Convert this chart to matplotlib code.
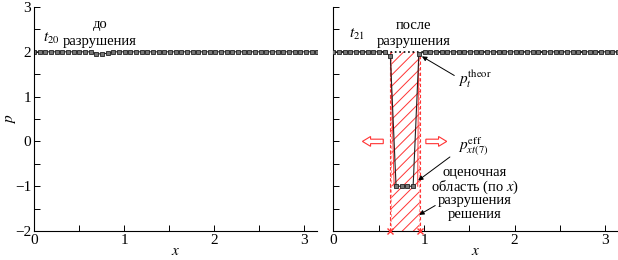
import numpy as np
import matplotlib
matplotlib.use("Agg")
import matplotlib.pyplot as plt
from matplotlib.patches import Rectangle, FancyArrow
from matplotlib.ticker import MultipleLocator

plt.rcParams['font.family'] = ['Liberation Serif', 'DejaVu Serif']
plt.rcParams['mathtext.fontset'] = 'stix'
plt.rcParams['hatch.linewidth'] = 0.7

# ---- data ----
n_points = 51
x_grid = np.linspace(0, np.pi, n_points)
p_before = [2.0, 2.0, 2.0, 2.0, 2.0, 2.0, 2.0, 2.0, 2.0, 2.0,
            2.0, 1.96, 1.95, 1.97, 2.0, 2.0, 2.0, 2.0, 2.0, 2.0,
            2.0, 2.0, 2.0, 2.0, 2.0, 2.0, 2.0, 2.0, 2.0, 2.0,
            2.0, 2.0, 2.0, 2.0, 2.0, 2.0, 2.0, 2.0, 2.0, 2.0,
            2.0, 2.0, 2.0, 2.0, 2.0, 2.0, 2.0, 2.0, 2.0, 2.0, 2.0]
p_after = [2.0, 2.0, 2.0, 2.0, 2.0, 2.0, 2.0, 2.0, 2.0, 2.0,
           1.9, -1.0, -1.0, -1.0, -1.0, 1.95, 2.0, 2.0, 2.0, 2.0,
           2.0, 2.0, 2.0, 2.0, 2.0, 2.0, 2.0, 2.0, 2.0, 2.0,
           2.0, 2.0, 2.0, 2.0, 2.0, 2.0, 2.0, 2.0, 2.0, 2.0,
           2.0, 2.0, 2.0, 2.0, 2.0, 2.0, 2.0, 2.0, 2.0, 2.0, 2.0]
p_theor = 2.0
x_break = [0.62, 0.955]   # estimated break region bounds
y_range = [-2, 3]
x_range = [0, 3.14]

fig = plt.figure(figsize=(6.18, 2.6), dpi=100)
ax1 = fig.add_axes([0.055, 0.1115, 0.458, 0.8615])
ax2 = fig.add_axes([0.5395, 0.1115, 0.4605, 0.8615])

for ax in (ax1, ax2):
    ax.set_xlim(*x_range)
    ax.set_ylim(*y_range)
    for s in ('top', 'right'):
        ax.spines[s].set_visible(False)
    ax.spines['left'].set_linewidth(0.8)
    ax.spines['bottom'].set_linewidth(0.8)
    ax.xaxis.set_major_locator(MultipleLocator(1))
    ax.xaxis.set_minor_locator(MultipleLocator(0.5))
    ax.yaxis.set_major_locator(MultipleLocator(1))
    ax.yaxis.set_minor_locator(MultipleLocator(0.5))
    ax.tick_params(which='major', direction='in', length=4, width=0.7, labelsize=11, pad=2)
    ax.tick_params(which='minor', direction='in', length=4, width=0.7)
    ax.set_xlabel('$x$', fontsize=11, labelpad=-1)

ax1.set_ylabel('$p$', fontsize=11)
ax1.yaxis.set_label_coords(-0.055, 0.5)
ax2.tick_params(axis='y', labelleft=False)

mk = dict(marker='s', ms=3, mfc='#777777', mec='#222222', mew=0.6)

# left panel
ax1.plot(x_grid, p_before, '-', color='#222222', lw=0.8, **mk)
ax1.text(0.19, 2.3, '$t_{20}$', fontsize=11, ha='center', va='center')
ax1.text(0.73, 2.6, 'до', fontsize=10.5, ha='center', va='center')
ax1.text(0.73, 2.22, 'разрушения', fontsize=10.5, ha='center', va='center')

# right panel
rect = Rectangle((x_break[0], y_range[0]), x_break[1] - x_break[0], p_theor - y_range[0],
                 facecolor='none', edgecolor='#ff3333', hatch='///', lw=0)
ax2.add_patch(rect)
for xb in x_break:
    ax2.plot([xb, xb], [y_range[0], p_theor], color='#ff3333', lw=0.8, ls=(0, (3, 2)))
ax2.plot([x_break[0] + 0.015] * 2, [y_range[0], p_theor], color='#ff9999', lw=0.7, ls=(0, (3, 2)))
ax2.plot([x_break[1] - 0.015] * 2, [y_range[0], p_theor], color='#ff9999', lw=0.7, ls=(0, (3, 2)))
ax2.plot([0.63, 0.67], [1.95, -1.0], color='#ff3333', lw=0.7)
ax2.plot([0.93, 0.94], [-1.0, 1.95], color='#ff3333', lw=0.7)
ax2.plot(x_break, [y_range[0]] * 2, 'x', color='#ff3333', ms=5, mew=1.0, clip_on=False, zorder=5)

ax2.plot(x_range, [p_theor] * 2, ':', color='black', lw=1.2)
ax2.plot(x_grid, p_after, '-', color='#222222', lw=0.8, zorder=4, **mk)

for (x0, dx) in ((0.55, -0.23), (1.02, 0.23)):
    ax2.add_patch(FancyArrow(x0, 0.0, dx, 0, width=0.1, head_width=0.22, head_length=0.09,
                             length_includes_head=True, facecolor='white',
                             edgecolor='#ff3333', lw=0.8))

ax2.text(0.26, 2.38, '$t_{21}$', fontsize=11, ha='center', va='center')
ax2.text(0.88, 2.58, 'после', fontsize=10.5, ha='center', va='center')
ax2.text(0.88, 2.22, 'разрушения', fontsize=10.5, ha='center', va='center')

arrowprops = dict(arrowstyle='-|>', color='black', lw=0.7, mutation_scale=7)
ax2.annotate('', xy=(0.95, 1.93), xytext=(1.36, 1.44), arrowprops=arrowprops)
ax2.text(1.38, 1.38, r'$p_t^{\mathrm{theor}}$', fontsize=11, ha='left', va='center')
ax2.annotate('', xy=(0.91, -0.91), xytext=(1.31, -0.31), arrowprops=arrowprops)
ax2.text(1.38, -0.11, r'$p_{xt(7)}^{\mathrm{eff}}$', fontsize=11, ha='left', va='center')
ax2.text(1.56, -0.69, 'оценочная', fontsize=10.5, ha='center', va='center')
ax2.text(1.56, -1.02, 'область (по $x$)', fontsize=10.5, ha='center', va='center')
ax2.text(1.56, -1.33, 'разрушения', fontsize=10.5, ha='center', va='center')
ax2.text(1.56, -1.64, 'решения', fontsize=10.5, ha='center', va='center')
ax2.annotate('', xy=(0.92, -1.67), xytext=(1.15, -1.4), arrowprops=arrowprops)

fig.savefig('out.png', dpi=100)
